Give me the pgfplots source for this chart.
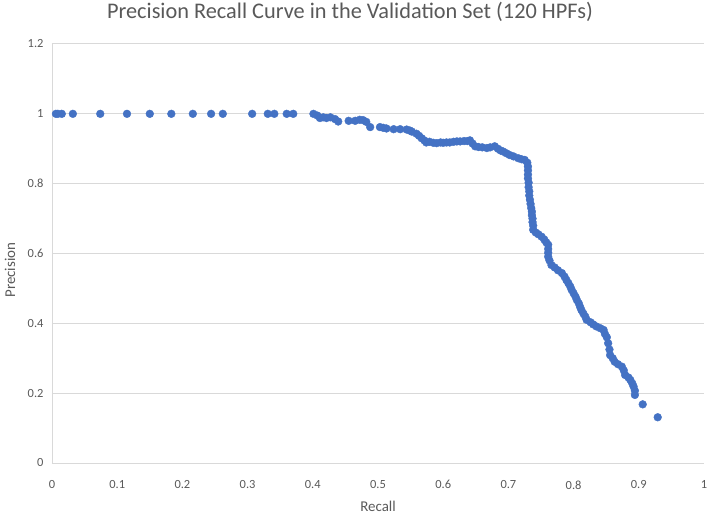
\documentclass[border=0pt]{standalone}
\usepackage{pgfplots}
\pgfplotsset{compat=1.18}
\usepackage{fontspec}
\setmainfont{Carlito}
\definecolor{excelblue}{HTML}{4472C4}
\definecolor{txtgray}{HTML}{595959}
\definecolor{gridgray}{HTML}{D9D9D9}
\begin{document}
\begin{tikzpicture}
\path[use as bounding box] (-52bp,-53bp) rectangle (657bp,463bp);
\begin{axis}[
  at={(0,0)}, anchor=origin,
  scale only axis,
  width=652bp, height=419bp,
  xmin=0, xmax=1, ymin=0, ymax=1.2,
  xtick={0,0.1,0.2,0.3,0.4,0.5,0.6,0.7,0.8,0.9,1},
  ytick={0,0.2,0.4,0.6,0.8,1,1.2},
  axis x line=bottom, axis y line=left,
  axis line style={gridgray, line width=1pt, -},
  ymajorgrids, major grid style={gridgray, line width=1pt},
  major tick length=0pt,
  tick label style={font=\fontsize{12.5}{15}\selectfont, text=txtgray},
  /pgf/number format/assume math mode=true,
  xticklabel style={yshift=-14bp},
  yticklabel style={xshift=-5bp},
  title={Precision Recall Curve in the Validation Set (120 HPFs)},
  title style={font=\fontsize{22.4}{25}\selectfont, text=txtgray, at={(rel axis cs:0.457,1)}, anchor=center, yshift=26bp},
  xlabel={Recall},
  xlabel style={font=\fontsize{15}{17}\selectfont, text=txtgray, at={(rel axis cs:0.5,0)}, anchor=center, yshift=-43bp},
  ylabel={Precision},
  ylabel style={font=\fontsize{15}{17}\selectfont, text=txtgray, at={(rel axis cs:0,0.46)}, anchor=center, yshift=42bp},
  clip=false,
]
\addplot[only marks, mark=*, mark size=3.9bp, mark options={draw=excelblue, fill=excelblue}] coordinates {
(0.006,1) (0.009,1) (0.015,1) (0.032,1) (0.074,1) (0.115,1) (0.150,1) (0.183,1) (0.216,1) (0.244,1) (0.262,1)
(0.307,1) (0.331,1) (0.341,1) (0.360,1) (0.370,1)
(0.401,1.0) (0.407,0.995) (0.411,0.988) (0.416,0.99) (0.421,0.988) (0.427,0.99) (0.434,0.985) (0.439,0.978)
(0.455,0.98) (0.465,0.98) (0.472,0.983) (0.477,0.982) (0.482,0.977)
(0.488,0.962) (0.503,0.962) (0.508,0.96) (0.513,0.958) (0.524,0.956) (0.534,0.956) (0.544,0.955) (0.549,0.952)
(0.552,0.949) (0.559,0.943) (0.563,0.937) (0.567,0.930) (0.571,0.924) (0.574,0.918) (0.579,0.92) (0.585,0.917)
(0.590,0.916) (0.596,0.918) (0.600,0.917) (0.605,0.918) (0.610,0.918) (0.616,0.92) (0.621,0.921) (0.626,0.921)
(0.632,0.922) (0.637,0.922) (0.641,0.924) (0.645,0.915) (0.649,0.907) (0.654,0.905) (0.660,0.904) (0.667,0.902)
(0.672,0.904) (0.679,0.907) (0.684,0.9) (0.688,0.895) (0.692,0.892) (0.697,0.887) (0.702,0.882) (0.708,0.878)
(0.715,0.873) (0.720,0.87) (0.725,0.868) (0.729,0.86) (0.730,0.849) (0.730,0.838) (0.730,0.826) (0.730,0.815)
(0.731,0.803) (0.731,0.79) (0.732,0.778) (0.732,0.766) (0.733,0.754) (0.734,0.742) (0.735,0.73) (0.736,0.72)
(0.736,0.71) (0.737,0.7) (0.737,0.69) (0.738,0.68) (0.738,0.668) (0.742,0.66) (0.746,0.655) (0.751,0.648)
(0.755,0.64) (0.758,0.632) (0.761,0.625) (0.761,0.613) (0.761,0.602) (0.761,0.591) (0.763,0.58) (0.766,0.567)
(0.771,0.56) (0.776,0.552) (0.782,0.544) (0.786,0.534) (0.789,0.524) (0.792,0.515) (0.795,0.505) (0.797,0.496)
(0.800,0.486) (0.803,0.476) (0.805,0.467) (0.808,0.457) (0.810,0.447) (0.812,0.438) (0.815,0.428) (0.818,0.419)
(0.820,0.41) (0.826,0.403) (0.830,0.397) (0.835,0.391) (0.841,0.386) (0.846,0.381) (0.848,0.37) (0.851,0.36)
(0.853,0.343) (0.855,0.325) (0.856,0.309) (0.860,0.30) (0.863,0.290) (0.868,0.283) (0.874,0.276) (0.877,0.265)
(0.879,0.252) (0.884,0.245) (0.887,0.238) (0.890,0.228) (0.892,0.219) (0.894,0.207) (0.894,0.195)
(0.906,0.168) (0.929,0.131)
};
\end{axis}
\end{tikzpicture}
\end{document}
